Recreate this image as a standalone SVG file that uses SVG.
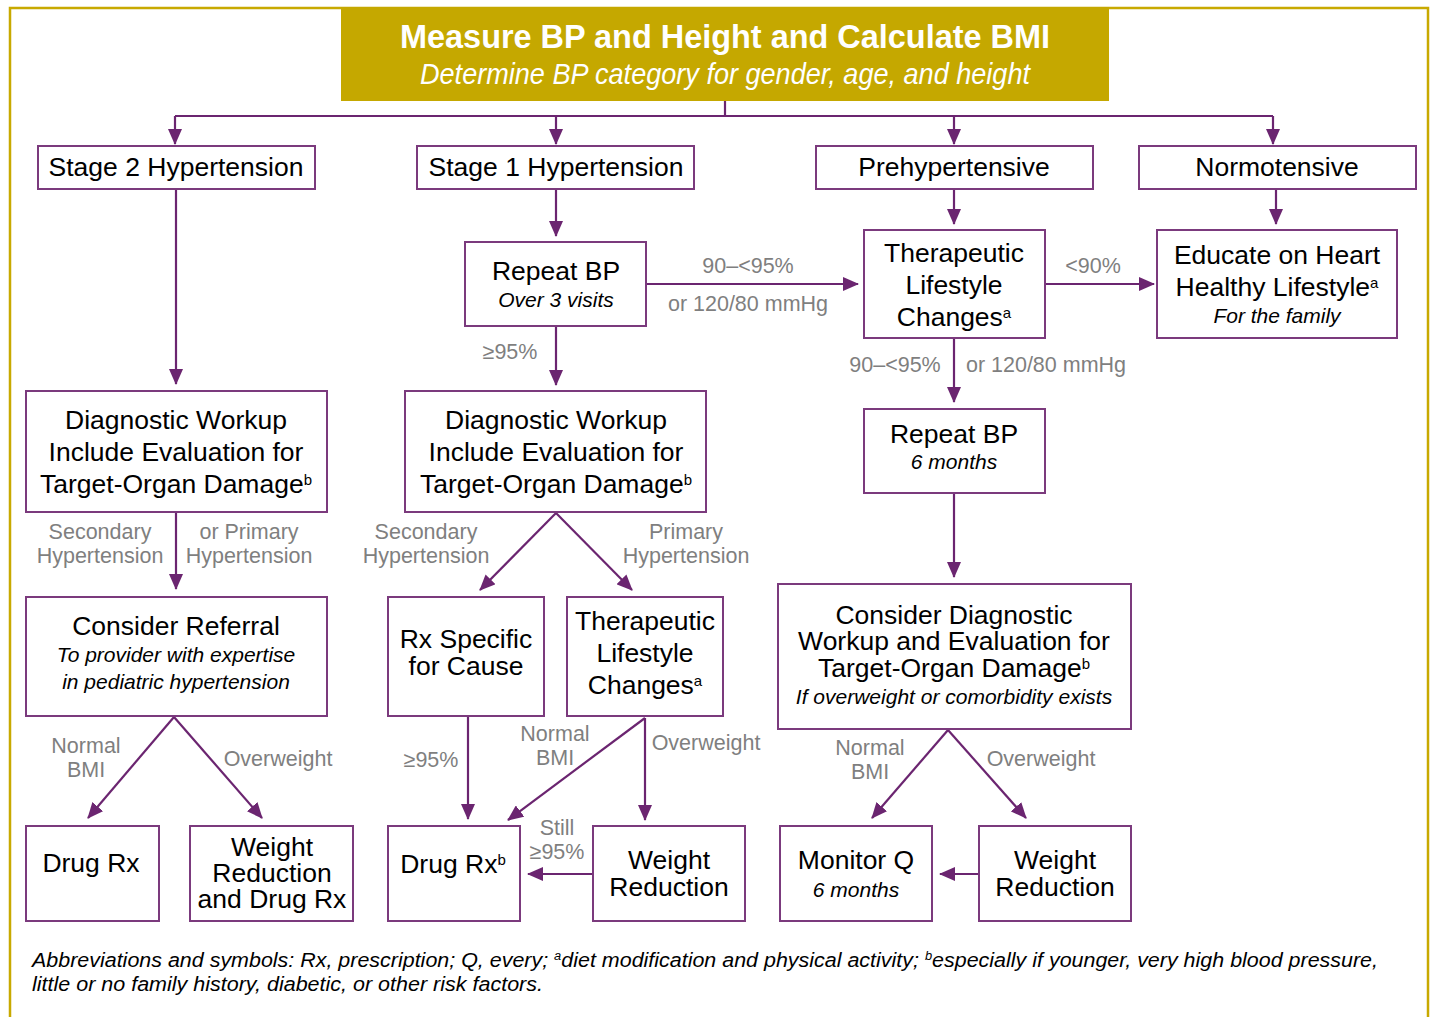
<svg xmlns="http://www.w3.org/2000/svg" width="1431" height="1017" viewBox="0 0 1431 1017">
<style>
.box{fill:#fff;stroke:#7b3a7d;stroke-width:2}
.c{fill:none;stroke:#6b2570;stroke-width:2.2}
text{font-family:"Liberation Sans",Arial,sans-serif;}
.t{font-size:26.5px;fill:#000;text-anchor:middle}
.s{font-size:21px;font-style:italic;fill:#000;text-anchor:middle}
.g{font-size:21.5px;fill:#7f7f7f;text-anchor:middle}
.sup{font-size:15px}
</style>
<defs>
<marker id="ah" markerUnits="userSpaceOnUse" markerWidth="16" markerHeight="14" refX="15" refY="7" orient="auto">
<path d="M0,0 L16,7 L0,14 Z" fill="#6b2570"/>
</marker>
</defs>
<rect x="10" y="8" width="1418" height="1020" fill="none" stroke="#c8a900" stroke-width="2.5"/>
<g id="header">
<rect x="341" y="7" width="768" height="94" fill="#c5a800"/>
<text x="725" y="48" font-size="34" font-weight="bold" fill="#fff" text-anchor="middle" textLength="650" lengthAdjust="spacingAndGlyphs">Measure BP and Height and Calculate BMI</text>
<text x="725" y="84" font-size="30" font-style="italic" fill="#fff" text-anchor="middle" textLength="610" lengthAdjust="spacingAndGlyphs">Determine BP category for gender, age, and height</text>
</g>
<g id="connectors">
<path class="c" d="M725,101 V116"/>
<path class="c" d="M175,116 H1273"/>
<path class="c" d="M175,116 V144" marker-end="url(#ah)"/>
<path class="c" d="M556,116 V144" marker-end="url(#ah)"/>
<path class="c" d="M954,116 V144" marker-end="url(#ah)"/>
<path class="c" d="M1273,116 V144" marker-end="url(#ah)"/>
<path class="c" d="M176,189 V384" marker-end="url(#ah)"/>
<path class="c" d="M176,512 V589" marker-end="url(#ah)"/>
<path class="c" d="M174,717 L88,818" marker-end="url(#ah)"/>
<path class="c" d="M174,717 L262,818" marker-end="url(#ah)"/>
<path class="c" d="M556,189 V236" marker-end="url(#ah)"/>
<path class="c" d="M646,284 H858" marker-end="url(#ah)"/>
<path class="c" d="M556,326 V385" marker-end="url(#ah)"/>
<path class="c" d="M556,513 L480,590" marker-end="url(#ah)"/>
<path class="c" d="M556,513 L632,590" marker-end="url(#ah)"/>
<path class="c" d="M468,716 V819" marker-end="url(#ah)"/>
<path class="c" d="M645,718 L508,820" marker-end="url(#ah)"/>
<path class="c" d="M645,718 V820" marker-end="url(#ah)"/>
<path class="c" d="M593,874 H528" marker-end="url(#ah)"/>
<path class="c" d="M954,189 V224" marker-end="url(#ah)"/>
<path class="c" d="M1045,284 H1154" marker-end="url(#ah)"/>
<path class="c" d="M954,338 V402" marker-end="url(#ah)"/>
<path class="c" d="M954,493 V577" marker-end="url(#ah)"/>
<path class="c" d="M948,730 L872,818" marker-end="url(#ah)"/>
<path class="c" d="M948,730 L1026,818" marker-end="url(#ah)"/>
<path class="c" d="M979,874 H940" marker-end="url(#ah)"/>
<path class="c" d="M1276,189 V224" marker-end="url(#ah)"/>
</g>
<g id="labels">
<text class="g" x="748" y="273">90–&lt;95%</text>
<text class="g" x="748" y="311">or 120/80 mmHg</text>
<text class="g" x="510" y="359">≥95%</text>
<text class="g" x="100" y="539">Secondary</text>
<text class="g" x="100" y="563">Hypertension</text>
<text class="g" x="249" y="539">or Primary</text>
<text class="g" x="249" y="563">Hypertension</text>
<text class="g" x="426" y="539">Secondary</text>
<text class="g" x="426" y="563">Hypertension</text>
<text class="g" x="686" y="539">Primary</text>
<text class="g" x="686" y="563">Hypertension</text>
<text class="g" x="86" y="753">Normal</text>
<text class="g" x="86" y="777">BMI</text>
<text class="g" x="278" y="766">Overweight</text>
<text class="g" x="431" y="767">≥95%</text>
<text class="g" x="555" y="741">Normal</text>
<text class="g" x="555" y="765">BMI</text>
<text class="g" x="706" y="750">Overweight</text>
<text class="g" x="557" y="835">Still</text>
<text class="g" x="557" y="859">≥95%</text>
<text class="g" x="1093" y="273">&lt;90%</text>
<text class="g" x="895" y="372">90–&lt;95%</text>
<text class="g" x="1046" y="372">or 120/80 mmHg</text>
<text class="g" x="870" y="755">Normal</text>
<text class="g" x="870" y="779">BMI</text>
<text class="g" x="1041" y="766">Overweight</text>
</g>
<g id="stage2">
<rect class="box" x="38" y="146" width="277" height="43"/>
<text class="t" x="176" y="176">Stage 2 Hypertension</text>
</g>
<g id="stage1">
<rect class="box" x="417" y="146" width="277" height="43"/>
<text class="t" x="556" y="176">Stage 1 Hypertension</text>
</g>
<g id="prehyp">
<rect class="box" x="816" y="146" width="277" height="43"/>
<text class="t" x="954" y="176">Prehypertensive</text>
</g>
<g id="normo">
<rect class="box" x="1139" y="146" width="277" height="43"/>
<text class="t" x="1277" y="176">Normotensive</text>
</g>
<g id="repeat1">
<rect class="box" x="465" y="242" width="181" height="84"/>
<text class="t" x="556" y="280">Repeat BP</text>
<text class="s" x="556" y="307">Over 3 visits</text>
</g>
<g id="tlc1">
<rect class="box" x="864" y="230" width="181" height="108"/>
<text class="t" x="954" y="262">Therapeutic</text>
<text class="t" x="954" y="294">Lifestyle</text>
<text class="t" x="954" y="326">Changes<tspan class="sup" baseline-shift="super">a</tspan></text>
</g>
<g id="educate">
<rect class="box" x="1157" y="230" width="240" height="108"/>
<text class="t" x="1277" y="264">Educate on Heart</text>
<text class="t" x="1277" y="296">Healthy Lifestyle<tspan class="sup" baseline-shift="super">a</tspan></text>
<text class="s" x="1277" y="323">For the family</text>
</g>
<g id="diag1">
<rect class="box" x="26" y="391" width="301" height="121"/>
<text class="t" x="176" y="429">Diagnostic Workup</text>
<text class="t" x="176" y="461">Include Evaluation for</text>
<text class="t" x="176" y="493">Target-Organ Damage<tspan class="sup" baseline-shift="super">b</tspan></text>
</g>
<g id="diag2">
<rect class="box" x="405" y="391" width="301" height="121"/>
<text class="t" x="556" y="429">Diagnostic Workup</text>
<text class="t" x="556" y="461">Include Evaluation for</text>
<text class="t" x="556" y="493">Target-Organ Damage<tspan class="sup" baseline-shift="super">b</tspan></text>
</g>
<g id="repeat2">
<rect class="box" x="864" y="409" width="181" height="84"/>
<text class="t" x="954" y="443">Repeat BP</text>
<text class="s" x="954" y="469">6 months</text>
</g>
<g id="referral">
<rect class="box" x="26" y="597" width="301" height="119"/>
<text class="t" x="176" y="635">Consider Referral</text>
<text class="s" x="176" y="662">To provider with expertise</text>
<text class="s" x="176" y="689">in pediatric hypertension</text>
</g>
<g id="rxcause">
<rect class="box" x="388" y="597" width="156" height="119"/>
<text class="t" x="466" y="648">Rx Specific</text>
<text class="t" x="466" y="675">for Cause</text>
</g>
<g id="tlc2">
<rect class="box" x="567" y="597" width="156" height="119"/>
<text class="t" x="645" y="630">Therapeutic</text>
<text class="t" x="645" y="662">Lifestyle</text>
<text class="t" x="645" y="694">Changes<tspan class="sup" baseline-shift="super">a</tspan></text>
</g>
<g id="consider">
<rect class="box" x="778" y="584" width="353" height="145"/>
<text class="t" x="954" y="624">Consider Diagnostic</text>
<text class="t" x="954" y="650">Workup and Evaluation for</text>
<text class="t" x="954" y="677">Target-Organ Damage<tspan class="sup" baseline-shift="super">b</tspan></text>
<text class="s" x="954" y="704">If overweight or comorbidity exists</text>
</g>
<g id="drugrx1">
<rect class="box" x="26" y="826" width="133" height="95"/>
<text class="t" x="91" y="872">Drug Rx</text>
</g>
<g id="wrdrug">
<rect class="box" x="190" y="826" width="163" height="95"/>
<text class="t" x="272" y="856">Weight</text>
<text class="t" x="272" y="882">Reduction</text>
<text class="t" x="272" y="908">and Drug Rx</text>
</g>
<g id="drugrx2">
<rect class="box" x="388" y="826" width="132" height="95"/>
<text class="t" x="453" y="873">Drug Rx<tspan class="sup" baseline-shift="super">b</tspan></text>
</g>
<g id="wr1">
<rect class="box" x="593" y="826" width="152" height="95"/>
<text class="t" x="669" y="869">Weight</text>
<text class="t" x="669" y="896">Reduction</text>
</g>
<g id="monitor">
<rect class="box" x="780" y="826" width="152" height="95"/>
<text class="t" x="856" y="869">Monitor Q</text>
<text class="s" x="856" y="897">6 months</text>
</g>
<g id="wr2">
<rect class="box" x="979" y="826" width="152" height="95"/>
<text class="t" x="1055" y="869">Weight</text>
<text class="t" x="1055" y="896">Reduction</text>
</g>
<g id="footnote">
<text x="32" y="967" font-size="20" font-style="italic" fill="#000" textLength="1346" lengthAdjust="spacingAndGlyphs">Abbreviations and symbols: Rx, prescription; Q, every; <tspan font-size="12" baseline-shift="super">a</tspan>diet modification and physical activity; <tspan font-size="12" baseline-shift="super">b</tspan>especially if younger, very high blood pressure,</text>
<text x="32" y="991" font-size="20" font-style="italic" fill="#000" textLength="511" lengthAdjust="spacingAndGlyphs">little or no family history, diabetic, or other risk factors.</text>
</g>
</svg>
